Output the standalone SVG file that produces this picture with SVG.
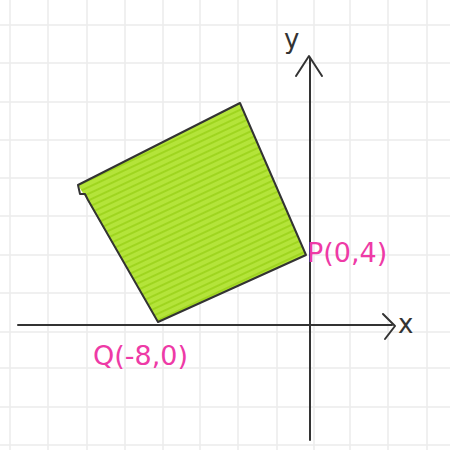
<svg xmlns="http://www.w3.org/2000/svg" width="450" height="450" viewBox="0 0 450 450">
<defs>
<style>
.grid{stroke:#ebebeb;stroke-width:1.5;fill:none}
.ink{stroke:#333;stroke-width:2;fill:none;stroke-linecap:round;stroke-linejoin:round}
.lbl{font-family:"DejaVu Sans",sans-serif;font-size:27px;fill:#ee3aa6}
.ax{font-family:"DejaVu Sans",sans-serif;font-size:26px;fill:#333}
</style>
<pattern id="hatch" width="6" height="6" patternUnits="userSpaceOnUse" patternTransform="rotate(-25)">
<rect width="6" height="6" fill="#b4e43a"/>
<line x1="0" y1="3" x2="6" y2="3" stroke="#9fd51f" stroke-width="2"/>
</pattern>
</defs>
<rect width="450" height="450" fill="#fff"/>
<g id="grid" class="grid">
<path d="M10 0V450M48 0V450M87 0V450M125 0V450M163 0V450M200 0V450M238 0V450M277 0V450M314 0V450M350 0V450M388 0V450M427 0V450"/>
<path d="M0 25H450M0 63H450M0 102H450M0 140H450M0 178H450M0 216H450M0 255H450M0 293H450M0 332H450M0 368H450M0 407H450M0 445H450"/>
</g>
<g id="square">
<path d="M78 185 L240 103 L306 255 L158 322 L86 198 Z" fill="url(#hatch)"/>
<path class="ink" d="M78 185 L240 103 L306 255 L158 322 L88 200 L85 194 L80 194 L78 185"/>
</g>
<g id="axes" class="ink">
<path d="M18 325 H392"/>
<path d="M383 314 L395 326 L385 339"/>
<path d="M310 440 V58"/>
<path d="M296 76 L309 56 L322 76"/>
</g>
<text class="ax" x="284" y="48">y</text>
<text class="ax" x="398" y="333">x</text>
<text class="lbl" x="93" y="365">Q(-8,0)</text>
<text class="lbl" x="307" y="262">P(0,4)</text>
</svg>
